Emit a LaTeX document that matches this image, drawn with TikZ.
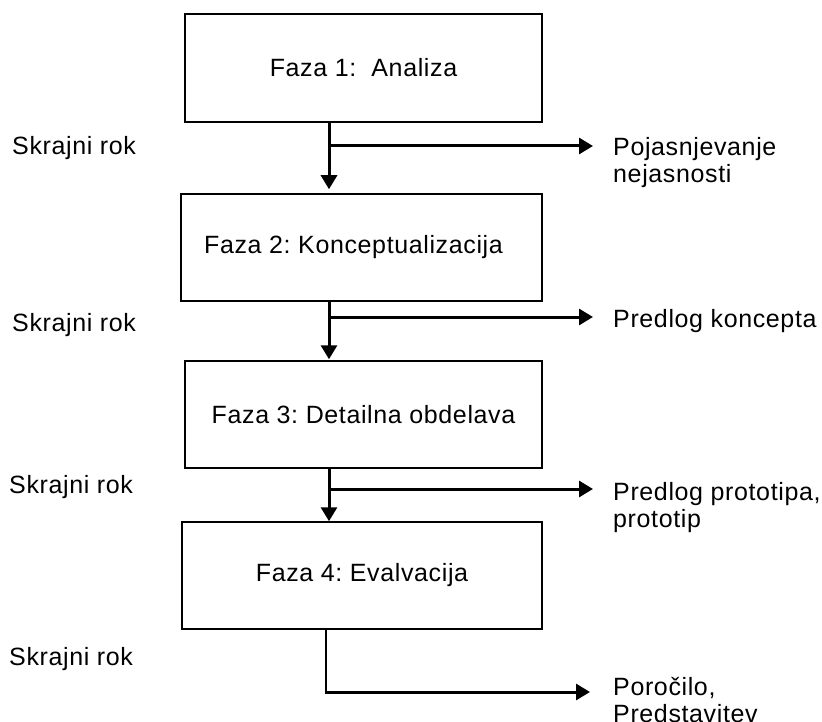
\documentclass[tikz,border=0pt]{standalone}
\usepackage{fontspec}
\setmainfont{Liberation Sans}[LetterSpace=2.5]
\usetikzlibrary{arrows.meta}
\frenchspacing

\tikzset{
  phase/.style={draw, line width=1.5pt, inner sep=0pt, align=center},
  flow/.style={line width=3pt, -{Triangle[length=14pt,width=16pt]}},
  feed/.style={line width=1.5pt},
  deadline/.style={anchor=base west, inner sep=0pt},
  result/.style={anchor=base west, inner sep=0pt},
}

\newcommand{\lines}[1]{\begin{tabular}[t]{@{}l@{}}#1\end{tabular}}

\begin{document}
\begin{tikzpicture}[x=1pt, y=-1pt, font=\fontsize{25}{27}\selectfont]
  \useasboundingbox (0,0) rectangle (822,722);

  % phases
  \node[phase, minimum width=357pt, minimum height=108pt] (b1) at (363.5,68) {Faza 1:\ \ Analiza};
  \node[phase, minimum width=361pt, minimum height=107pt] (b2) at (361.5,247.5) {Faza 2: Konceptualizacija\hspace{16pt}};
  \node[phase, minimum width=357pt, minimum height=107pt] (b3) at (363.5,414.5) {Faza 3: Detailna obdelava};
  \node[phase, minimum width=360pt, minimum height=107pt] (b4) at (362,575.5) {Faza 4: Evalvacija};

  % deadlines
  \node[deadline] (d1) at (12,155) {Skrajni rok};
  \node[deadline] (d2) at (12,331) {Skrajni rok};
  \node[deadline] (d3) at (9,493) {Skrajni rok};
  \node[deadline] (d4) at (9,665) {Skrajni rok};

  % deliverables
  \node[result] (o1) at (613,156) {\lines{Pojasnjevanje\\nejasnosti}};
  \node[result] (o2) at (613,327) {Predlog koncepta};
  \node[result] (o3) at (613,500) {\lines{Predlog prototipa,\\prototip}};
  \node[result] (o4) at (613,695) {\lines{Poročilo,\\Predstavitev}};

  % branch points and arrow tips
  \coordinate (j1) at (329,146);
  \coordinate (j2) at (329,317);
  \coordinate (j3) at (329,489);
  \coordinate (j4) at (326,692);
  \coordinate (t1) at (593,146);
  \coordinate (t2) at (593,317);
  \coordinate (t3) at (593,489);
  \coordinate (t4) at (590,692);

  % phase-to-phase flow
  \draw[flow, shorten >=4pt] (b1.south -| j1) -- (b2.north -| j1);
  \draw[flow, shorten >=1pt] (b2.south -| j2) -- (b3.north -| j2);
  \draw[flow] (b3.south -| j3) -- (b4.north -| j3);

  % deliverable branches
  \draw[flow] (j1) -- (t1);
  \draw[flow] (j2) -- (t2);
  \draw[flow] (j3) -- (t3);
  \draw[feed] (b4.south -| j4) -- ([yshift=-0.75pt]j4);
  \draw[flow] ([xshift=-0.75pt]j4) -- (t4);
\end{tikzpicture}
\end{document}
